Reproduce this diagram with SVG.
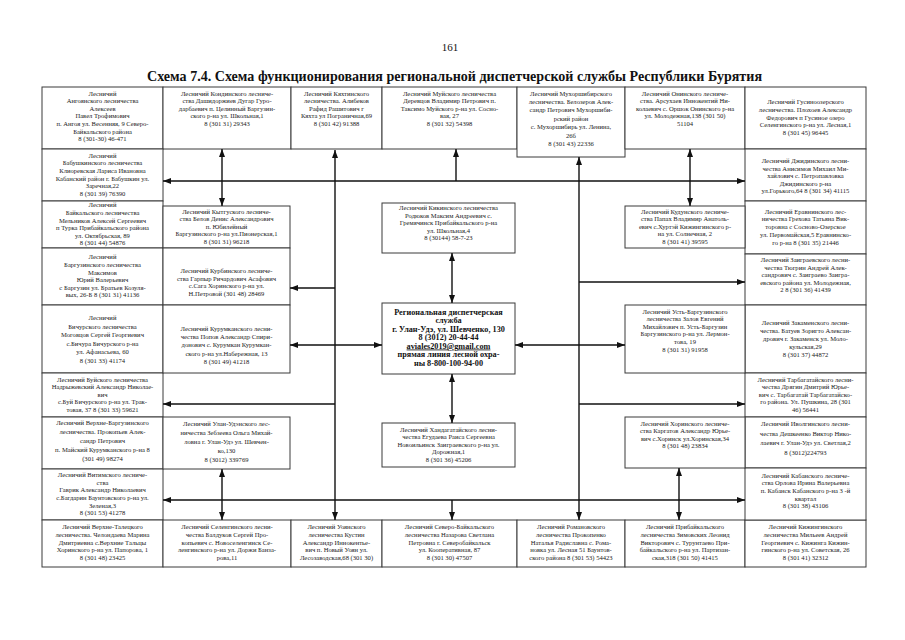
<svg xmlns="http://www.w3.org/2000/svg" width="905" height="640" viewBox="0 0 905 640">
<style>
.c{fill:#fff;stroke:#3a3a3a;stroke-width:1}
.t{font-family:"Liberation Serif","Times New Roman",serif;font-size:6.6px;fill:#222;text-anchor:middle}
.b{font-family:"Liberation Serif","Times New Roman",serif;font-size:8.2px;font-weight:bold;fill:#111;text-anchor:middle}
.ln{stroke:#111;stroke-width:1.4;fill:none;marker-end:url(#ah)}
.d{marker-start:url(#ah)}
.hd{font-family:"Liberation Serif","Times New Roman",serif;fill:#111}
</style>
<defs>
<marker id="ah" viewBox="0 0 8 6" refX="8" refY="3" markerWidth="8" markerHeight="6" markerUnits="userSpaceOnUse" orient="auto-start-reverse"><path d="M0,0 L8,3 L0,6 z" fill="#111"/></marker>
</defs>
<rect width="905" height="640" fill="#fff"/>
<text class="hd" x="450" y="51" font-size="11" text-anchor="middle">161</text>
<text class="hd" x="147" y="81" font-size="14" font-weight="bold" textLength="615" lengthAdjust="spacingAndGlyphs">Схема 7.4. Схема функционирования региональной диспетчерской службы Республики Бурятия</text>

<!-- top row -->
<g id="n-angoya"><rect class="c" x="42" y="87" width="121" height="62"/>
<text class="t" x="102.5" y="95.5"><tspan x="102.5" dy="0">Лесничий</tspan><tspan x="102.5" dy="7.6">Ангоянского   лесничества</tspan><tspan x="102.5" dy="7.6">Алексеев</tspan><tspan x="102.5" dy="7.6">Павел Трофимович</tspan><tspan x="102.5" dy="7.6">п. Ангоя ул. Весенняя, 9 Северо-</tspan><tspan x="102.5" dy="7.6">Байкальского района</tspan><tspan x="102.5" dy="7.6">8 (301-30) 46-471</tspan></text></g>
<g id="n-kondinsky"><rect class="c" x="163" y="87" width="128" height="62"/>
<text class="t" x="227" y="95.5"><tspan x="227" dy="0">Лесничий Кондинского   лесниче-</tspan><tspan x="227" dy="7.6">ства  Дашидоржиев Дугар Гуро-</tspan><tspan x="227" dy="7.6">дарбаевич п. Целинный Баргузин-</tspan><tspan x="227" dy="7.6">ского р-на ул. Школьная,1</tspan><tspan x="227" dy="7.6">8 (301 31) 29343</tspan></text></g>
<g id="n-kyakhta"><rect class="c" x="291" y="87" width="91" height="62"/>
<text class="t" x="336.5" y="95.5"><tspan x="336.5" dy="0">Лесничий Кяхтинского</tspan><tspan x="336.5" dy="7.6">лесничества.  Алибеков</tspan><tspan x="336.5" dy="7.6">Рафид Рашитович г</tspan><tspan x="336.5" dy="7.6">Кяхта ул Пограничная,69</tspan><tspan x="336.5" dy="7.6">8 (301 42) 91388</tspan></text></g>
<g id="n-muya"><rect class="c" x="382" y="87" width="135" height="62"/>
<text class="t" x="449.5" y="95.5"><tspan x="449.5" dy="0">Лесничий Муйского   лесничества</tspan><tspan x="449.5" dy="7.6">Деревцов Владимир Петрович п.</tspan><tspan x="449.5" dy="7.6">Таксимо Муйского р-на ул. Сосно-</tspan><tspan x="449.5" dy="7.6">вая, 27</tspan><tspan x="449.5" dy="7.6">8 (301 32) 54398</tspan></text></g>
<g id="n-mukhorshibir"><rect class="c" x="517" y="87" width="108" height="70"/>
<text class="t" x="571" y="95.5"><tspan x="571" dy="0">Лесничий Мухоршибирского</tspan><tspan x="571" dy="8.4">лесничества. Белозеров Алек-</tspan><tspan x="571" dy="8.4">сандр Петрович Мухоршиби-</tspan><tspan x="571" dy="8.4">рский район</tspan><tspan x="571" dy="8.4">с. Мухоршибирь ул. Ленина,</tspan><tspan x="571" dy="8.4">26б</tspan><tspan x="571" dy="8.4">8 (301 43) 22336</tspan></text></g>
<g id="n-onin"><rect class="c" x="625" y="87" width="120" height="62"/>
<text class="t" x="685" y="95.5"><tspan x="685" dy="0">Лесничий Онинского   лесниче-</tspan><tspan x="685" dy="7.6">ства. Арсухаев Иннокентий Ни-</tspan><tspan x="685" dy="7.6">колаевич с. Оршок Онинского р-на</tspan><tspan x="685" dy="7.6">ул. Молодежная,138 (301 50)</tspan><tspan x="685" dy="7.6">51104</tspan></text></g>
<g id="n-gusinoozersk"><rect class="c" x="745" y="87" width="121" height="62"/>
<text class="t" x="805.5" y="104.3"><tspan x="805.5" dy="0">Лесничий Гусиноозерского</tspan><tspan x="805.5" dy="7.6">лесничества. Плохоев Александр</tspan><tspan x="805.5" dy="7.6">Федорович п Гусиное озеро</tspan><tspan x="805.5" dy="7.6">Селенгинского р-на ул. Лесная,1</tspan><tspan x="805.5" dy="7.6">8 (301 45) 96445</tspan></text></g>

<!-- left column -->
<g id="n-babushkin"><rect class="c" x="42" y="149" width="121" height="52"/>
<text class="t" x="102.5" y="157.8"><tspan x="102.5" dy="0">Лесничий</tspan><tspan x="102.5" dy="7.6">Бабушкинского   лесничества</tspan><tspan x="102.5" dy="7.6">Клиоревская Лариса Ивановна</tspan><tspan x="102.5" dy="7.6">Кабанский район г. Бабушкин  ул.</tspan><tspan x="102.5" dy="7.6">Заречная,22</tspan><tspan x="102.5" dy="7.6">8 (301 39) 76390</tspan></text></g>
<g id="n-baikalsk"><rect class="c" x="42" y="201" width="121" height="47"/>
<text class="t" x="102.5" y="207.3"><tspan x="102.5" dy="0">Лесничий</tspan><tspan x="102.5" dy="7.6">Байкальского   лесничества</tspan><tspan x="102.5" dy="7.6">Мельников Алексей Сергеевич</tspan><tspan x="102.5" dy="7.6">п Турка Прибайкальского района</tspan><tspan x="102.5" dy="7.6">ул.  Октябрьская, 89</tspan><tspan x="102.5" dy="7.6">8 (301 44) 54876</tspan></text></g>
<g id="n-barguzin"><rect class="c" x="42" y="248" width="121" height="57"/>
<text class="t" x="102.5" y="259.3"><tspan x="102.5" dy="0">Лесничий</tspan><tspan x="102.5" dy="7.6">Баргузинского   лесничества</tspan><tspan x="102.5" dy="7.6">Максимов</tspan><tspan x="102.5" dy="7.6">Юрий Валерьевич</tspan><tspan x="102.5" dy="7.6">с Баргузин ул.  Братьев Козуля-</tspan><tspan x="102.5" dy="7.6">вых, 26-Б 8 (301 31) 41136</tspan></text></g>
<g id="n-bichura"><rect class="c" x="42" y="305" width="121" height="68"/>
<text class="t" x="102.5" y="320"><tspan x="102.5" dy="0">Лесничий</tspan><tspan x="102.5" dy="8.6">Бичурского   лесничества</tspan><tspan x="102.5" dy="8.6">Моговцов Сергей Георгиевич</tspan><tspan x="102.5" dy="8.6">с.Бичура Бичурского р-на</tspan><tspan x="102.5" dy="8.6">ул.  Афанасьева, 60</tspan><tspan x="102.5" dy="8.6">8 (301 33) 41174</tspan></text></g>
<g id="n-buy"><rect class="c" x="42" y="373" width="121" height="44"/>
<text class="t" x="102.5" y="381.6"><tspan x="102.5" dy="0">Лесничий Буйского   лесничества</tspan><tspan x="102.5" dy="7.6">Надрыжевский Александр Николае-</tspan><tspan x="102.5" dy="7.6">вич</tspan><tspan x="102.5" dy="7.6">с.Буй Бичурского р-на ул.  Трак-</tspan><tspan x="102.5" dy="7.6">товая, 37  8 (301 33) 59621</tspan></text></g>
<g id="n-verkhne-barguzin"><rect class="c" x="42" y="417" width="121" height="52"/>
<text class="t" x="102.5" y="425"><tspan x="102.5" dy="0">Лесничий Верхне-Баргузинского</tspan><tspan x="102.5" dy="9">лесничества. Прокопьев Алек-</tspan><tspan x="102.5" dy="9">сандр Петрович</tspan><tspan x="102.5" dy="9">п. Майский Курумканского р-на 8</tspan><tspan x="102.5" dy="9">(301 49) 98274</tspan></text></g>
<g id="n-vitim"><rect class="c" x="42" y="469" width="121" height="51"/>
<text class="t" x="102.5" y="477.2"><tspan x="102.5" dy="0">Лесничий Витимского   лесниче-</tspan><tspan x="102.5" dy="7.6">ства</tspan><tspan x="102.5" dy="7.6">Гаврик Александр Николаевич</tspan><tspan x="102.5" dy="7.6">с.Багдарин Баунтовского р-на ул.</tspan><tspan x="102.5" dy="7.6">Зеленая,3</tspan><tspan x="102.5" dy="7.6">8 (301 53) 41278</tspan></text></g>

<!-- bottom row -->
<g id="n-verkhne-talets"><rect class="c" x="42" y="520" width="121" height="47"/>
<text class="t" x="102.5" y="529.3"><tspan x="102.5" dy="0">Лесничий Верхне-Талецкого</tspan><tspan x="102.5" dy="7.6">лесничества.  Челондаева Марина</tspan><tspan x="102.5" dy="7.6">Дмитриевна с.Верхние Тальцы</tspan><tspan x="102.5" dy="7.6">Хоринского р-на ул. Папорова, 1</tspan><tspan x="102.5" dy="7.6">8 (301 48) 23425</tspan></text></g>
<g id="n-selenga"><rect class="c" x="163" y="520" width="128" height="47"/>
<text class="t" x="227" y="529.3"><tspan x="227" dy="0">Лесничий Селенгинского   лесни-</tspan><tspan x="227" dy="7.6">чества  Балдуков Сергей Про-</tspan><tspan x="227" dy="7.6">копьевич с. Новоселенгинск Се-</tspan><tspan x="227" dy="7.6">ленгинского р-на ул. Доржи Банза-</tspan><tspan x="227" dy="7.6">рова,11</tspan></text></g>
<g id="n-uoyan"><rect class="c" x="291" y="520" width="91" height="47"/>
<text class="t" x="336.5" y="529.3"><tspan x="336.5" dy="0">Лесничий Уоянского</tspan><tspan x="336.5" dy="7.6">лесничества  Кустин</tspan><tspan x="336.5" dy="7.6">Александр Иннокентье-</tspan><tspan x="336.5" dy="7.6">вич п. Новый Уоян ул.</tspan><tspan x="336.5" dy="7.6">Лесозаводская,68 (301 30)</tspan></text></g>
<g id="n-severobaikalsk"><rect class="c" x="382" y="520" width="135" height="47"/>
<text class="t" x="449.5" y="529.3"><tspan x="449.5" dy="0">Лесничий Северо-Байкальского</tspan><tspan x="449.5" dy="7.6">лесничества  Назарова Светлана</tspan><tspan x="449.5" dy="7.6">Петровна  г. Северобайкальск</tspan><tspan x="449.5" dy="7.6">ул. Кооперативная, 87</tspan><tspan x="449.5" dy="7.6">8 (301 30) 47507</tspan></text></g>
<g id="n-romanovka"><rect class="c" x="517" y="520" width="108" height="47"/>
<text class="t" x="571" y="529.3"><tspan x="571" dy="0">Лесничий Романовского</tspan><tspan x="571" dy="7.6">лесничества  Прокопенко</tspan><tspan x="571" dy="7.6">Наталья Радиславна с. Рома-</tspan><tspan x="571" dy="7.6">новка ул.  Лесная 51 Баунтов-</tspan><tspan x="571" dy="7.6">ского района  8 (301 53) 54423</tspan></text></g>
<g id="n-pribaikalsk"><rect class="c" x="625" y="520" width="120" height="47"/>
<text class="t" x="685" y="529.3"><tspan x="685" dy="0">Лесничий Прибайкальского</tspan><tspan x="685" dy="7.6">лесничества  Зимовских Леонид</tspan><tspan x="685" dy="7.6">Викторович с. Турунтаево При-</tspan><tspan x="685" dy="7.6">байкальского р-на ул. Партизан-</tspan><tspan x="685" dy="7.6">ская,318 (301 50) 41415</tspan></text></g>
<g id="n-kizhinga"><rect class="c" x="745" y="520" width="121" height="47"/>
<text class="t" x="805.5" y="529.3"><tspan x="805.5" dy="0">Лесничий Кижингинского</tspan><tspan x="805.5" dy="7.6">лесничества  Мильеев  Андрей</tspan><tspan x="805.5" dy="7.6">Георгиевич  с. Кижинга Кижин-</tspan><tspan x="805.5" dy="7.6">гинского р-на ул. Советская, 26</tspan><tspan x="805.5" dy="7.6">8 (301 41) 32312</tspan></text></g>

<!-- right column -->
<g id="n-dzhida"><rect class="c" x="745" y="149" width="121" height="52"/>
<text class="t" x="805.5" y="163"><tspan x="805.5" dy="0">Лесничий Джидинского   лесни-</tspan><tspan x="805.5" dy="7.6">чества  Анисимов Михаил Ми-</tspan><tspan x="805.5" dy="7.6">хайлович  с. Петропавловка</tspan><tspan x="805.5" dy="7.6">Джидинского р-на</tspan><tspan x="805.5" dy="7.6">ул.Горького,64 8 (301 34) 41115</tspan></text></g>
<g id="n-eravna"><rect class="c" x="745" y="201" width="121" height="53"/>
<text class="t" x="805.5" y="213.5"><tspan x="805.5" dy="0">Лесничий Еравнинского   лес-</tspan><tspan x="805.5" dy="7.8">ничества  Грехова Татьяна Вик-</tspan><tspan x="805.5" dy="7.8">торовна с Сосново-Озерское</tspan><tspan x="805.5" dy="7.8">ул. Первомайская,5 Еравнинско-</tspan><tspan x="805.5" dy="7.8">го р-на 8 (301 35) 21446</tspan></text></g>
<g id="n-zaigraevo"><rect class="c" x="745" y="254" width="121" height="51"/>
<text class="t" x="805.5" y="262"><tspan x="805.5" dy="0">Лесничий Заиграевского   лесни-</tspan><tspan x="805.5" dy="7.6">чества  Тюгрин Андрей Алек-</tspan><tspan x="805.5" dy="7.6">сандрович с. Заиграево Заигра-</tspan><tspan x="805.5" dy="7.6">евского района ул. Молодежная,</tspan><tspan x="805.5" dy="7.6">2 8 (301 36) 41439</tspan></text></g>
<g id="n-zakamensk"><rect class="c" x="745" y="305" width="121" height="68"/>
<text class="t" x="805.5" y="325.3"><tspan x="805.5" dy="0">Лесничий Закаменского   лесни-</tspan><tspan x="805.5" dy="7.8">чества. Батуев Зоригто Алексан-</tspan><tspan x="805.5" dy="7.8">дрович г. Закаменск ул. Моло-</tspan><tspan x="805.5" dy="7.8">кульская,29</tspan><tspan x="805.5" dy="7.8">8 (301 37) 44872</tspan></text></g>
<g id="n-tarbagatai"><rect class="c" x="745" y="373" width="121" height="44"/>
<text class="t" x="805.5" y="381.6"><tspan x="805.5" dy="0">Лесничий Тарбагатайского  лесни-</tspan><tspan x="805.5" dy="7.6">чества  Дрягин Дмитрий Юрье-</tspan><tspan x="805.5" dy="7.6">вич с. Тарбагатай Тарбагатайско-</tspan><tspan x="805.5" dy="7.6">го  района. Ул. Пушкина, 28 (301</tspan><tspan x="805.5" dy="7.6">46) 56441</tspan></text></g>
<g id="n-ivolga"><rect class="c" x="745" y="417" width="121" height="51"/>
<text class="t" x="805.5" y="426"><tspan x="805.5" dy="0">Лесничий Иволгинского   лесни-</tspan><tspan x="805.5" dy="9.5">чества  Дешкеенко Виктор Нико-</tspan><tspan x="805.5" dy="9.5">лаевич  г. Улан-Удэ ул. Светлая,2</tspan><tspan x="805.5" dy="9.5">8 (3012)224793</tspan></text></g>
<g id="n-kabansk"><rect class="c" x="745" y="468" width="121" height="52"/>
<text class="t" x="805.5" y="477.5"><tspan x="805.5" dy="0">Лесничий Кабанского   лесниче-</tspan><tspan x="805.5" dy="7.7">ства  Орлова Ирина Валерьевна</tspan><tspan x="805.5" dy="7.7">п. Кабанск Кабанского р-на 3 -й</tspan><tspan x="805.5" dy="7.7">квартал</tspan><tspan x="805.5" dy="7.7">8  (301 38) 43106</tspan></text></g>

<!-- inner boxes, second column -->
<g id="n-kytgus"><rect class="c" x="163" y="206" width="127" height="42"/>
<text class="t" x="226.5" y="213.5"><tspan x="226.5" dy="0">Лесничий Кытгуского   лесниче-</tspan><tspan x="226.5" dy="7.6">ства  Белов Денис Александрович</tspan><tspan x="226.5" dy="7.6">п. Юбилейный</tspan><tspan x="226.5" dy="7.6">Баргузинского р-на ул.Пионерская,1</tspan><tspan x="226.5" dy="7.6">8 (301 31) 96218</tspan></text></g>
<g id="n-kurba"><rect class="c" x="163" y="248" width="127" height="57"/>
<text class="t" x="226.5" y="273"><tspan x="226.5" dy="0">Лесничий Курбинского   лесниче-</tspan><tspan x="226.5" dy="7.6">ства  Гарпыр Ричардович Асафович</tspan><tspan x="226.5" dy="7.6">с.Сага Хоринского р-на ул.</tspan><tspan x="226.5" dy="7.6">Н.Петровой (301 48) 28469</tspan></text></g>
<g id="n-kurumkan"><rect class="c" x="163" y="305" width="127" height="68"/>
<text class="t" x="226.5" y="330.5"><tspan x="226.5" dy="0">Лесничий Курумканского   лесни-</tspan><tspan x="226.5" dy="8.4">чества  Попов Александр Спири-</tspan><tspan x="226.5" dy="8.4">донович с. Курумкан Курумкан-</tspan><tspan x="226.5" dy="8.4">ского р-на ул.Набережная, 13</tspan><tspan x="226.5" dy="8.4">8 (301 49) 41218</tspan></text></g>
<g id="n-ulan-ude"><rect class="c" x="163" y="417" width="127" height="52"/>
<text class="t" x="226.5" y="425.5"><tspan x="226.5" dy="0">Лесничий Улан-Удэнского   лес-</tspan><tspan x="226.5" dy="9.2">ничества  Зебзеева Ольга Михай-</tspan><tspan x="226.5" dy="9.2">ловна  г. Улан-Удэ ул. Шевчен-</tspan><tspan x="226.5" dy="9.2">ко,130</tspan><tspan x="226.5" dy="9.2">8 (3012) 339769</tspan></text></g>

<!-- center column -->
<g id="n-kika"><rect class="c" x="382" y="203" width="133" height="50"/>
<text class="t" x="448.5" y="210"><tspan x="448.5" dy="0">Лесничий Кикинского лесничества</tspan><tspan x="448.5" dy="7.6">Родюков Максим Андреевич с.</tspan><tspan x="448.5" dy="7.6">Гремячинск Прибайкальского р-на</tspan><tspan x="448.5" dy="7.6">ул.  Школьная,4</tspan><tspan x="448.5" dy="7.6">8 (30144) 58-7-23</tspan></text></g>
<g id="n-dispatch"><rect class="c" x="382" y="303" width="133" height="71" stroke-width="1.3"/>
<text class="b" x="448.5" y="314.5"><tspan x="448.5" dy="0">Региональная диспетчерская</tspan><tspan x="448.5" dy="8.5">служба</tspan><tspan x="448.5" dy="8.5">г. Улан-Удэ, ул. Шевченко, 130</tspan><tspan x="448.5" dy="8.5">8 (3012) 20-44-44</tspan><tspan x="448.5" dy="8.5" text-decoration="underline">aviales2019@gmail.com</tspan><tspan x="448.5" dy="8.5">прямая линия лесной охра-</tspan><tspan x="448.5" dy="8.5">ны 8-800-100-94-00</tspan></text></g>
<g id="n-khandagatai"><rect class="c" x="382" y="423" width="133" height="44"/>
<text class="t" x="448.5" y="431.5"><tspan x="448.5" dy="0">Лесничий Хандагатайского   лесни-</tspan><tspan x="448.5" dy="7.6">чества  Егудаева Раиса Сергеевна</tspan><tspan x="448.5" dy="7.6">Новоильинск Заиграевского р-на ул.</tspan><tspan x="448.5" dy="7.6">Дорожная,1</tspan><tspan x="448.5" dy="7.6">8 (301 36) 45206</tspan></text></g>

<!-- sixth column -->
<g id="n-kudun"><rect class="c" x="625" y="206" width="120" height="42"/>
<text class="t" x="685" y="213.5"><tspan x="685" dy="0">Лесничий Кудунского   лесниче-</tspan><tspan x="685" dy="7.6">ства  Папах Владимир Анатоль-</tspan><tspan x="685" dy="7.6">евич с.Хуртэй Кижингинского р-</tspan><tspan x="685" dy="7.6">на ул. Солнечная, 2</tspan><tspan x="685" dy="7.6">8 (301 41) 39595</tspan></text></g>
<g id="n-ust-barguzin"><rect class="c" x="625" y="305" width="120" height="68"/>
<text class="t" x="685" y="313.5"><tspan x="685" dy="0">Лесничий Усть-Баргузинского</tspan><tspan x="685" dy="7.6">лесничества  Залов Евгений</tspan><tspan x="685" dy="7.6">Михайлович п. Усть-Баргузин</tspan><tspan x="685" dy="7.6">Баргузинского р-на ул. Лермон-</tspan><tspan x="685" dy="7.6">това, 19</tspan><tspan x="685" dy="7.6">8 (301 31) 91958</tspan></text></g>
<g id="n-khorinsk"><rect class="c" x="625" y="417" width="120" height="51"/>
<text class="t" x="685" y="425.5"><tspan x="685" dy="0">Лесничий Хоринского   лесниче-</tspan><tspan x="685" dy="7.6">ства  Каргатов Александр Юрье-</tspan><tspan x="685" dy="7.6">вич с.Хоринск ул.Хоринская,34</tspan><tspan x="685" dy="7.6">8 (301 48) 23834</tspan></text></g>

<g id="connectors">
<path class="ln d" d="M335,150 V520"/>
<path class="ln d" d="M579,157 V520"/>
<path class="ln d" d="M163,181 H745"/>
<path class="ln d" d="M163,500 H745"/>
<path class="ln" d="M456,181 V149"/>
<path class="ln" d="M452,500 V520"/>
<path class="ln d" d="M222,149 V206"/>
<path class="ln d" d="M690,149 V206"/>
<path class="ln d" d="M222,469 V520"/>
<path class="ln d" d="M679,468 V520"/>
<path class="ln d" d="M452,253 V303"/>
<path class="ln d" d="M452,374 V423"/>
<path class="ln" d="M335,288 H290"/>
<path class="ln" d="M335,345 H290"/>
<path class="ln" d="M335,404 H163"/>
<path class="ln" d="M335,345 H382"/>
<path class="ln" d="M579,345 H515"/>
<path class="ln" d="M579,282 H745"/>
<path class="ln" d="M579,345 H625"/>
<path class="ln" d="M579,404 H745"/>
</g>
</svg>
